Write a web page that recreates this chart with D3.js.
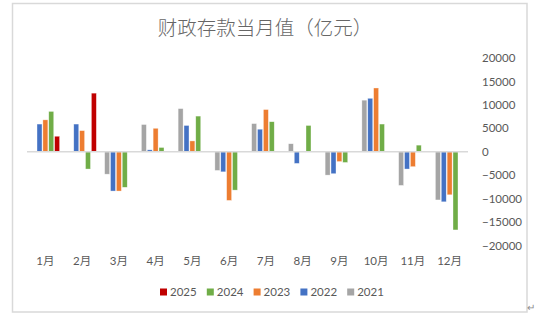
<!DOCTYPE html>
<html>
<head>
<meta charset="utf-8">
<script src="https://cdn.jsdelivr.net/npm/d3@7"></script>
<style>
  html, body { margin: 0; padding: 0; background: #fff; }
  svg { display: block; }
  text { font-family: Lato, "Noto Sans CJK SC", sans-serif; fill: #595959; }
</style>
</head>
<body>
<svg id="chart" width="554" height="322"></svg>
<script>
// Monthly change in fiscal deposits (亿元), by year
const months = ["1月","2月","3月","4月","5月","6月","7月","8月","9月","10月","11月","12月"];
const years = ["2021","2022","2023","2024","2025"];          // bar order within a month
const legendYears = ["2025","2024","2023","2022","2021"];    // legend order
const colors = { "2021": "#a5a5a5", "2022": "#4472c4", "2023": "#ed7d31", "2024": "#70ad47", "2025": "#c00000" };

const v2021 = [null, null, -4800, 5800, 9200, -4000, 6000, 1700, -5000, 11000, -7200, -10300];
const v2022 = [5900, 5900, -8400, 400, 5600, -4300, 4800, -2500, -4700, 11400, -3700, -10700];
const v2023 = [6800, 4500, -8400, 5000, 2300, -10400, 9000, null, -2100, 13600, -3200, -9200];
const v2024 = [8600, -3700, -7600, 900, 7600, -8200, 6400, 5600, -2300, 5900, 1400, -16700];
const v2025 = [3300, 12500, null, null, null, null, null, null, null, null, null, null];
const yTicks = [20000, 15000, 10000, 5000, 0, -5000, -10000, -15000, -20000];

const seriesValues = { "2021": v2021, "2022": v2022, "2023": v2023, "2024": v2024, "2025": v2025 };

const svg = d3.select("#chart");

// chart frame
svg.append("rect")
  .attr("x", 12.5).attr("y", 3.5).attr("width", 514.5).attr("height", 308.5)
  .attr("fill", "none").attr("stroke", "#d9d9d9").attr("stroke-width", 1.5);

// title
svg.append("text")
  .attr("x", 265).attr("y", 35)
  .attr("text-anchor", "middle")
  .style("font-family", "'Noto Sans CJK SC', sans-serif")
  .style("font-size", "19.5px")
  .style("font-weight", "300")
  .style("fill", "#666666")
  .text("财政存款当月值（亿元）");

const x0 = d3.scaleBand().domain(months).range([27, 468]).paddingInner(0.225).paddingOuter(0.1125);
const x1 = d3.scaleBand().domain(years).range([0, x0.bandwidth()]).paddingInner(0.15);
const y = d3.scaleLinear().domain([-20000, 20000]).range([245.4, 58]);

// right-side value axis
const yAxis = d3.axisRight(y).tickValues(yTicks).tickSize(0).tickPadding(0).tickFormat(d3.format("d"));
const yg = svg.append("g").attr("transform", "translate(482,0)").call(yAxis);
yg.select(".domain").remove();
yg.selectAll("text").style("font-size", "11.5px").attr("fill", "#595959").attr("text-anchor", "start")
  .style("font-family", "Lato, sans-serif");

// bars
const rows = [];
months.forEach((m, i) => {
  years.forEach(yr => {
    const v = seriesValues[yr][i];
    if (v !== null) rows.push({ month: m, year: yr, value: v });
  });
});

svg.append("g").selectAll("rect").data(rows).join("rect")
  .attr("x", d => x0(d.month) + x1(d.year))
  .attr("width", x1.bandwidth())
  .attr("y", d => y(Math.max(0, d.value)))
  .attr("height", d => Math.abs(y(d.value) - y(0)))
  .attr("fill", d => colors[d.year])
  .attr("stroke", "#ffffff").attr("stroke-opacity", 0.6).attr("stroke-width", 0.6);

// zero line
svg.append("line")
  .attr("x1", 27).attr("x2", 468).attr("y1", y(0)).attr("y2", y(0))
  .attr("stroke", "#d9d9d9").attr("stroke-width", 1.5);

// month labels
const xAxis = d3.axisBottom(x0).tickSize(0).tickPadding(0);
const xg = svg.append("g").attr("transform", "translate(0,257)").call(xAxis);
xg.select(".domain").remove();
xg.selectAll("text").style("font-size", "11.5px").attr("fill", "#595959")
  .style("font-family", "Lato, 'Noto Sans CJK SC', sans-serif");

// legend
const legend = svg.append("g").attr("transform", "translate(160,292)");
const item = legend.selectAll("g").data(legendYears).join("g")
  .attr("transform", (d, i) => `translate(${i * 46.8},0)`);
item.append("rect").attr("x", 0).attr("y", -3.5).attr("width", 7).attr("height", 7)
  .attr("fill", d => colors[d]);
item.append("text").attr("x", 10).attr("y", 4.2)
  .style("font-size", "11.5px").text(d => d);

// paragraph mark at the corner
svg.append("text").attr("x", 527).attr("y", 311)
  .style("font-size", "10px").style("fill", "#8c8c8c")
  .text("↵");
</script>
</body>
</html>
